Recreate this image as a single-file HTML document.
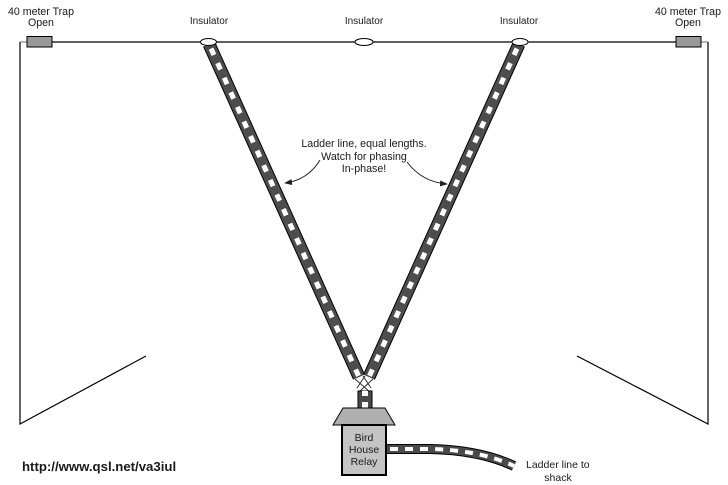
<!DOCTYPE html>
<html><head><meta charset="utf-8"><style>
html,body{margin:0;padding:0;background:#fff;}
svg{display:block;}
text{font-family:"Liberation Sans",Arial,sans-serif;fill:#1a1a1a;}
</style></head><body>
<svg width="728" height="485" viewBox="0 0 728 485" xmlns="http://www.w3.org/2000/svg">
<defs>
<marker id="ah" markerWidth="8" markerHeight="6" refX="7" refY="3" orient="auto" markerUnits="userSpaceOnUse">
<path d="M0,0 L8,3 L0,6 Z" fill="#222"/>
</marker>
</defs>
<line x1="20" y1="42" x2="27" y2="42" stroke="#888" stroke-width="1.2"/>
<line x1="52" y1="42" x2="676" y2="42" stroke="#000" stroke-width="1.2"/>
<line x1="701" y1="42" x2="708" y2="42" stroke="#888" stroke-width="1.2"/>
<polyline points="20,42 20,424 146,356" fill="none" stroke="#000" stroke-width="1.2"/>
<polyline points="708,42 708,424 577,356" fill="none" stroke="#000" stroke-width="1.2"/>
<rect x="27" y="36.5" width="25" height="10.5" fill="#999" stroke="#000" stroke-width="1"/>
<rect x="676" y="36.5" width="25" height="10.5" fill="#999" stroke="#000" stroke-width="1"/>

<g fill="none">
<path d="M209,44 L359,377" stroke="#000" stroke-width="13"/>
<path d="M209,44 L359,377" stroke="#4d4d4d" stroke-width="11"/>
<path d="M209,44 L359,377" stroke="#fff" stroke-width="5" stroke-dasharray="0 5 7 4" />
<path d="M519,44 L369,377" stroke="#000" stroke-width="13"/>
<path d="M519,44 L369,377" stroke="#4d4d4d" stroke-width="11"/>
<path d="M519,44 L369,377" stroke="#fff" stroke-width="5" stroke-dasharray="0 5 7 4"/>
</g>
<ellipse cx="208.5" cy="42" rx="8" ry="3.5" fill="#fff" stroke="#000" stroke-width="1"/>
<ellipse cx="364" cy="42" rx="9" ry="3.5" fill="#fff" stroke="#000" stroke-width="1"/>
<ellipse cx="520" cy="42" rx="8" ry="3.5" fill="#fff" stroke="#000" stroke-width="1"/>

<g stroke="#333" stroke-width="1" fill="none">
<line x1="355" y1="379" x2="370" y2="392"/>
<line x1="363" y1="376" x2="371" y2="388"/>
<line x1="373" y1="379" x2="359" y2="392"/>
<line x1="365" y1="376" x2="357" y2="388"/>
</g>
<rect x="358" y="391" width="14" height="17" fill="#4a4a4a" stroke="#000" stroke-width="1"/>
<rect x="362" y="391" width="6" height="5" fill="#fff"/>
<rect x="362" y="402" width="6" height="6" fill="#fff"/>

<polygon points="343,408 385,408 395,425 333,425" fill="#b0b0b0" stroke="#000" stroke-width="1"/>
<rect x="342" y="425" width="44" height="50" fill="#c4c4c4" stroke="#000" stroke-width="2"/>
<text x="364" y="441" font-size="10.5" text-anchor="middle">Bird</text>
<text x="364" y="453" font-size="10.5" text-anchor="middle">House</text>
<text x="364" y="465" font-size="10.5" text-anchor="middle">Relay</text>

<g fill="none">
<path d="M387,449 L430,449 Q480,450 514,466" stroke="#000" stroke-width="10"/>
<path d="M387,449 L430,449 Q480,450 514,466" stroke="#4a4a4a" stroke-width="8"/>
<path d="M387,449 L430,449 Q480,450 514,466" stroke="#fff" stroke-width="4" stroke-dasharray="0 3 8 4"/>
</g>

<path d="M320,160 Q308,180 285,183" fill="none" stroke="#222" stroke-width="1" marker-end="url(#ah)"/>
<path d="M407,162 Q422,182 447,184" fill="none" stroke="#222" stroke-width="1" marker-end="url(#ah)"/>

<text x="41" y="15" font-size="10.6" text-anchor="middle">40 meter Trap</text>
<text x="41" y="26" font-size="10.6" text-anchor="middle">Open</text>
<text x="688" y="15" font-size="10.6" text-anchor="middle">40 meter Trap</text>
<text x="688" y="26" font-size="10.6" text-anchor="middle">Open</text>
<text x="209" y="24" font-size="10" text-anchor="middle">Insulator</text>
<text x="364" y="24" font-size="10" text-anchor="middle">Insulator</text>
<text x="519" y="24" font-size="10" text-anchor="middle">Insulator</text>

<text x="364" y="147" font-size="10.7" text-anchor="middle">Ladder line, equal lengths.</text>
<text x="364" y="160" font-size="10.7" text-anchor="middle">Watch for phasing</text>
<text x="364" y="172" font-size="10.7" text-anchor="middle">In-phase!</text>

<text x="526" y="468" font-size="10.5">Ladder line to</text>
<text x="558" y="481" font-size="10.5" text-anchor="middle">shack</text>

<text x="22" y="471" font-size="13.2" font-weight="bold">http://www.qsl.net/va3iul</text>
</svg>
</body></html>
